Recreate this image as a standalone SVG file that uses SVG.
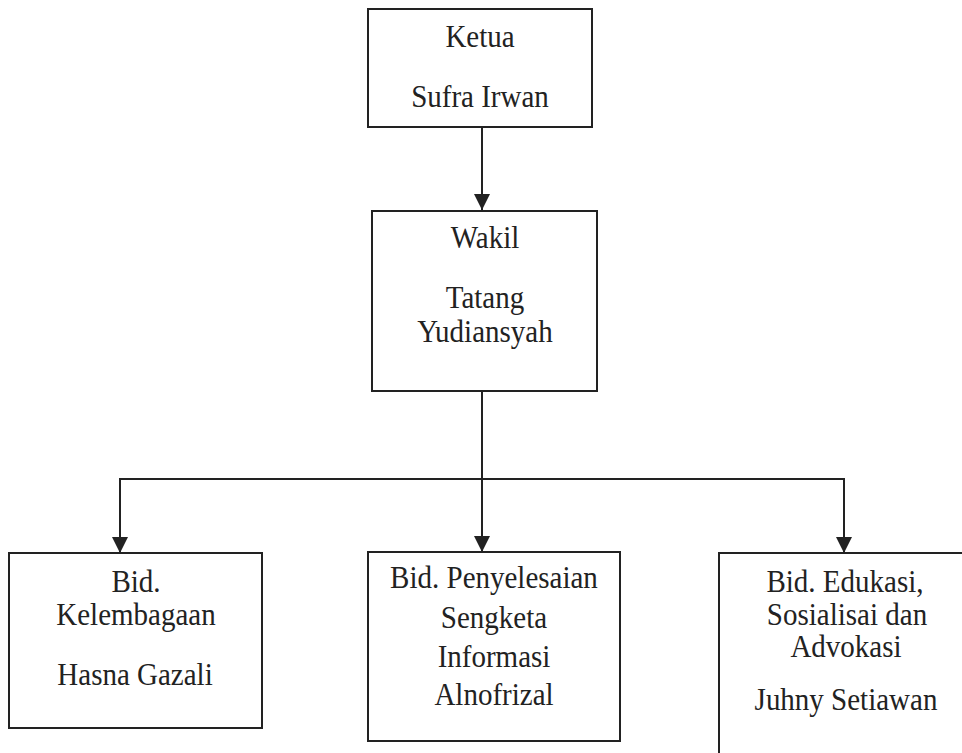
<svg xmlns="http://www.w3.org/2000/svg" width="962" height="753" viewBox="0 0 962 753">
<style>
.box{fill:#fff;stroke:#222;stroke-width:2}
.t{font-family:"Liberation Serif","Times New Roman",Times,serif;font-size:29px;fill:#222;text-anchor:middle}
.c{fill:none;stroke:#222;stroke-width:2}
</style>
<defs>
<marker id="arr" viewBox="0 0 16 16" refX="16" refY="8" markerWidth="16" markerHeight="16" markerUnits="userSpaceOnUse" orient="auto">
<path d="M0,0 L16,8 L0,16 Z" fill="#222"/>
</marker>
</defs>
<rect width="962" height="753" fill="#fff"/>
<g id="connectors">
<line class="c" x1="482" y1="127" x2="482" y2="210" marker-end="url(#arr)"/>
<line class="c" x1="482" y1="391" x2="482" y2="552" marker-end="url(#arr)"/>
<line class="c" x1="120" y1="479" x2="844" y2="479"/>
<line class="c" x1="120" y1="478" x2="120" y2="553" marker-end="url(#arr)"/>
<line class="c" x1="844" y1="478" x2="844" y2="553" marker-end="url(#arr)"/>
</g>
<g id="ketua">
<rect class="box" x="368" y="9" width="224" height="118"/>
<text class="t" transform="translate(480,47) scale(1,1.09)">Ketua</text>
<text class="t" transform="translate(480,107) scale(1,1.09)">Sufra Irwan</text>
</g>
<g id="wakil">
<rect class="box" x="372" y="211" width="225" height="180"/>
<text class="t" transform="translate(485,248) scale(1,1.09)">Wakil</text>
<text class="t" transform="translate(485,308) scale(1,1.09)">Tatang</text>
<text class="t" transform="translate(485,342) scale(1,1.09)">Yudiansyah</text>
</g>
<g id="kelembagaan">
<rect class="box" x="9" y="553" width="253" height="175"/>
<text class="t" transform="translate(136,592) scale(1,1.09)">Bid.</text>
<text class="t" transform="translate(136,625) scale(1,1.09)">Kelembagaan</text>
<text class="t" transform="translate(135,685) scale(1,1.09)">Hasna Gazali</text>
</g>
<g id="penyelesaian">
<rect class="box" x="368" y="552" width="252" height="189"/>
<text class="t" transform="translate(494,588) scale(1,1.09)">Bid. Penyelesaian</text>
<text class="t" transform="translate(494,628) scale(1,1.09)">Sengketa</text>
<text class="t" transform="translate(494,667) scale(1,1.09)">Informasi</text>
<text class="t" transform="translate(494,705) scale(1,1.09)">Alnofrizal</text>
</g>
<g id="edukasi">
<rect class="box" x="719" y="553" width="260" height="220"/>
<text class="t" transform="translate(845,592) scale(1,1.09)">Bid. Edukasi,</text>
<text class="t" transform="translate(847,625) scale(1,1.09)">Sosialisai dan</text>
<text class="t" transform="translate(846,657) scale(1,1.09)">Advokasi</text>
<text class="t" transform="translate(846,710) scale(1,1.09)">Juhny Setiawan</text>
</g>
</svg>
